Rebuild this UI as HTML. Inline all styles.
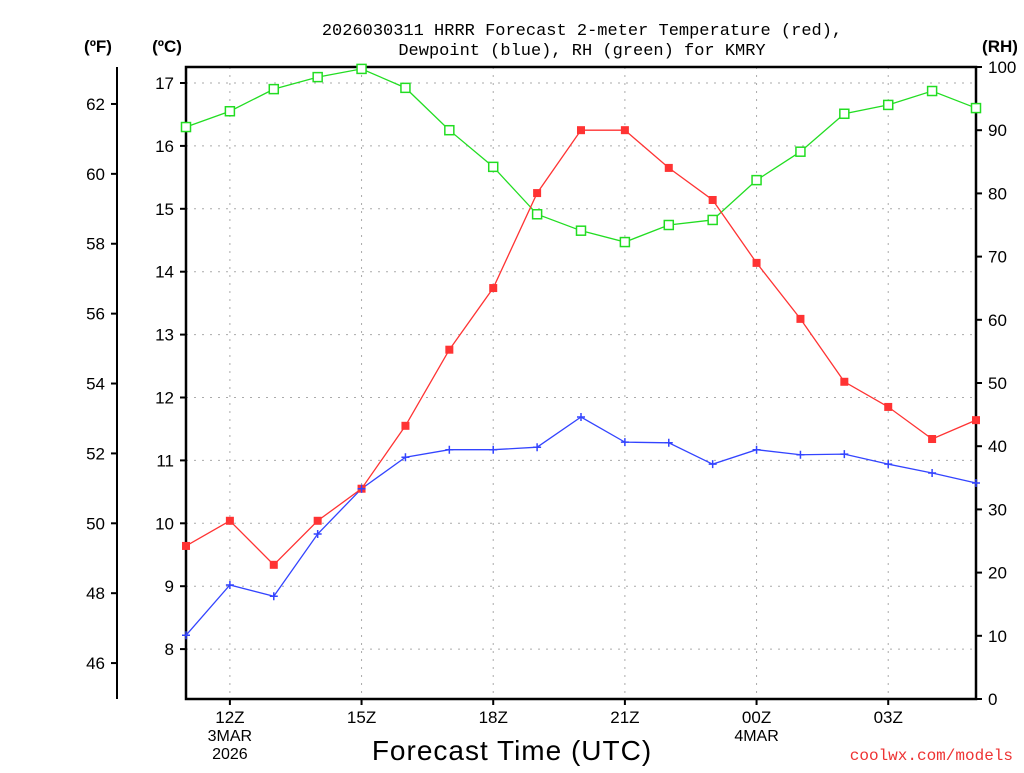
<!DOCTYPE html>
<html><head><meta charset="utf-8"><style>
html,body{margin:0;padding:0;background:#fff;}
svg text{font-family:"Liberation Sans",sans-serif;}
svg text.mono{font-family:"Liberation Mono",monospace;}
</style></head><body>
<svg id="c" width="1024" height="768" viewBox="0 0 1024 768" xmlns="http://www.w3.org/2000/svg">
<g font-size="17" text-anchor="middle" fill="#000">
<text class="mono" x="582" y="35">2026030311 HRRR Forecast 2-meter Temperature (red),</text>
<text class="mono" x="582" y="55">Dewpoint (blue), RH (green) for KMRY</text>
</g>
<text x="98" y="52" font-size="17" font-weight="bold" text-anchor="middle">(ºF)</text>
<text x="167" y="52" font-size="17" font-weight="bold" text-anchor="middle">(ºC)</text>
<text x="1000" y="52" font-size="17" font-weight="bold" text-anchor="middle">(RH)</text>
<text x="512" y="760" font-size="28" text-anchor="middle" letter-spacing="1">Forecast Time (UTC)</text>
<text class="mono" x="1013" y="760" font-size="16" text-anchor="end" fill="#ee3333">coolwx.com/models</text>
<g id="grid"></g><g id="axes"></g><g id="series"></g>
</svg>
<script>
const hours = ["11Z","12Z","13Z","14Z","15Z","16Z","17Z","18Z","19Z","20Z","21Z","22Z","23Z","00Z","01Z","02Z","03Z","04Z","05Z"];
const tempC = [9.64,10.04,9.34,10.04,10.55,11.55,12.76,13.74,15.25,16.25,16.25,15.65,15.14,14.14,13.25,12.25,11.85,11.34,11.64];
const dewC = [8.22,9.02,8.84,9.83,10.55,11.05,11.17,11.17,11.21,11.69,11.29,11.28,10.94,11.17,11.09,11.10,10.94,10.80,10.64];
const rh = [90.5,93.0,96.5,98.4,99.7,96.7,90.0,84.2,76.7,74.1,72.3,75.0,75.8,82.1,86.6,92.6,94.0,96.2,93.5];
const celsiusTicks = [8,9,10,11,12,13,14,15,16,17];
const fahrenheitTicks = [46,48,50,52,54,56,58,60,62];
const rhTicks = [0,10,20,30,40,50,60,70,80,90,100];
const xTickIdx = [1,4,7,10,13,16];
const xTickLabels = ["12Z","15Z","18Z","21Z","00Z","03Z"];
const xSubLabels = {1:["3MAR","2026"],13:["4MAR"]};

const L=186,R=976,T=67,B=699;
const NS="http://www.w3.org/2000/svg";
const xS=i=>L+i*(R-L)/(hours.length-1);
const yC=c=>83+(17-c)*62.9;
const yF=f=>yC((f-32)/1.8);
const yR=r=>B-r*(B-T)/100;
function mk(tag,attrs,parent){const e=document.createElementNS(NS,tag);for(const k in attrs)e.setAttribute(k,attrs[k]);parent.appendChild(e);return e;}
const grid=document.getElementById('grid'),axes=document.getElementById('axes'),ser=document.getElementById('series');
celsiusTicks.forEach(c=>{const l=mk('line',{x1:L,x2:R,y1:yC(c),y2:yC(c),stroke:'#aaa','stroke-dasharray':'2,6'},grid);

});
xTickIdx.forEach(i=>{const l=mk('line',{x1:xS(i),x2:xS(i),y1:T,y2:B,stroke:'#aaa','stroke-dasharray':'2,6'},grid);

});
const fr=mk('rect',{x:L,y:T,width:R-L,height:B-T,fill:'none',stroke:'#000','stroke-width':2.5},axes);


const fa=mk('line',{x1:117,x2:117,y1:T,y2:B,stroke:'#000','stroke-width':2},axes);


celsiusTicks.forEach(c=>{mk('line',{x1:L-6,x2:L,y1:yC(c),y2:yC(c),stroke:'#000','stroke-width':2},axes);
const t=mk('text',{x:L-12,y:yC(c)+6,'font-size':17,'text-anchor':'end'},axes);t.textContent=c;

});
fahrenheitTicks.forEach(f=>{mk('line',{x1:111,x2:117,y1:yF(f),y2:yF(f),stroke:'#000','stroke-width':2},axes);
const t=mk('text',{x:105,y:yF(f)+6,'font-size':17,'text-anchor':'end'},axes);t.textContent=f;

});
rhTicks.forEach(r=>{mk('line',{x1:R,x2:R+6,y1:yR(r),y2:yR(r),stroke:'#000','stroke-width':2},axes);
const t=mk('text',{x:R+12,y:yR(r)+6,'font-size':17,'text-anchor':'start'},axes);t.textContent=r;

});
xTickIdx.forEach((i,k)=>{mk('line',{x1:xS(i),x2:xS(i),y1:B,y2:B+6,stroke:'#000','stroke-width':2},axes);
const t=mk('text',{x:xS(i),y:B+24,'font-size':17,'text-anchor':'middle'},axes);t.textContent=xTickLabels[k];


(xSubLabels[i]||[]).forEach((s,j)=>{const u=mk('text',{x:xS(i),y:B+42+j*18,'font-size':16,'text-anchor':'middle'},axes);u.textContent=s;

});});
function line(vals,yf,color,name){const p=mk('polyline',{points:vals.map((v,i)=>xS(i)+','+yf(v)).join(' '),fill:'none',stroke:color,'stroke-width':1.3},ser);

}
line(rh,yR,'#22dd22','rh-line');
line(tempC,yC,'#ff3333','temperature-line');
line(dewC,yC,'#3344ff','dewpoint-line');
rh.forEach((v,i)=>{const m=mk('rect',{x:xS(i)-4.5,y:yR(v)-4.5,width:9,height:9,fill:'#fff',stroke:'#22dd22','stroke-width':1.5},ser);

});
tempC.forEach((v,i)=>{const m=mk('rect',{x:xS(i)-4,y:yC(v)-4,width:8,height:8,fill:'#ff3333'},ser);

});
dewC.forEach((v,i)=>{const m=mk('path',{d:`M${xS(i)-4},${yC(v)}h8M${xS(i)},${yC(v)-4}v8`,stroke:'#3344ff','stroke-width':1.5},ser);

});
</script>
</body></html>
